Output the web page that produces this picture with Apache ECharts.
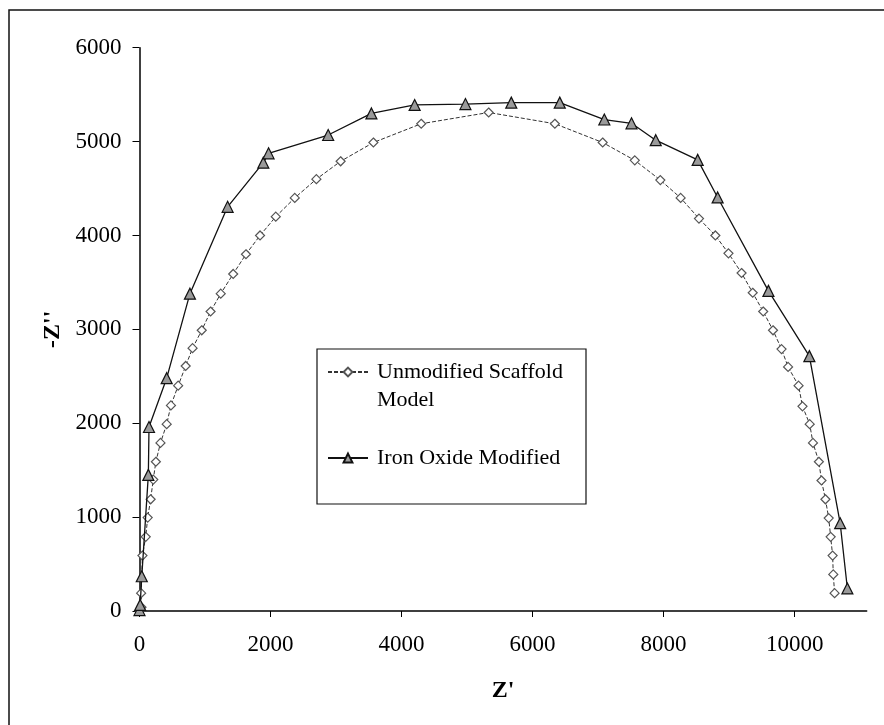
<!DOCTYPE html>
<html>
<head>
<meta charset="utf-8">
<script src="https://cdn.jsdelivr.net/npm/echarts@6/dist/echarts.min.js"></script>
<style>
  html, body { margin: 0; padding: 0; background: #fff; }
  #chart { width: 884px; height: 725px; }
</style>
</head>
<body>
<div id="chart"></div>
<script>
// Nyquist plot: -Z'' against Z'
const seriesNames = ['Unmodified Scaffold Model', 'Iron Oxide Modified'];

// Unmodified scaffold model
const unmodZre = [0, 30, 25, 45, 95, 125, 170, 210, 250, 320, 415, 480, 590, 705, 810, 950, 1085, 1240, 1430, 1625, 1840, 2080, 2370, 2700, 3070, 3570, 4300, 5330, 6340, 7070, 7560, 7950, 8260, 8540, 8790, 8990, 9190, 9360, 9520, 9670, 9800, 9900, 10060, 10120, 10230, 10280, 10370, 10410, 10470, 10520, 10550, 10580, 10590, 10610];
const unmodZim = [0, 40, 190, 590, 790, 995, 1190, 1400, 1590, 1790, 1990, 2190, 2400, 2610, 2800, 2990, 3190, 3380, 3590, 3800, 4000, 4200, 4400, 4600, 4790, 4990, 5190, 5310, 5190, 4990, 4800, 4590, 4400, 4180, 4000, 3810, 3600, 3390, 3190, 2990, 2790, 2600, 2400, 2180, 1990, 1790, 1590, 1390, 1190, 990, 790, 590, 390, 190];

// Iron oxide modified scaffold
const ironZre = [0, 10, 35, 135, 145, 415, 770, 1345, 1890, 1970, 2880, 3540, 4200, 4975, 5675, 6415, 7095, 7510, 7880, 8520, 8825, 9600, 10225, 10695, 10805];
const ironZim = [10, 65, 370, 1450, 1960, 2480, 3380, 4305, 4775, 4875, 5070, 5300, 5390, 5400, 5415, 5415, 5235, 5195, 5015, 4805, 4405, 3410, 2715, 935, 240];

// Axis ticks
const xTicks = [0, 2000, 4000, 6000, 8000, 10000];
const yTicks = [0, 1000, 2000, 3000, 4000, 5000, 6000];

const pairs = (xs, ys) => xs.map((x, i) => [x, ys[i]]);
const plain = (v) => String(v);

const serif = '"Liberation Serif", "Times New Roman", serif';
const chart = echarts.init(document.getElementById('chart'), null, { renderer: 'canvas' });

chart.setOption({
  backgroundColor: '#ffffff',
  animation: false,
  grid: { left: 139.5, right: 17.3, top: 47.7, bottom: 114 },
  xAxis: {
    type: 'value',
    min: 0,
    max: 11100,
    name: "Z'",
    nameLocation: 'middle',
    nameGap: 68,
    nameTextStyle: { fontFamily: serif, fontSize: 24, fontWeight: 'bold', color: '#000', padding: [0, 0, 0, 0] },
    axisLine: { show: true, onZero: false, lineStyle: { color: '#000', width: 1.5 } },
    axisTick: { show: true, inside: false, length: 6, customValues: xTicks, lineStyle: { color: '#000' } },
    axisLabel: { customValues: xTicks, formatter: plain, margin: 22, fontFamily: serif, fontSize: 23, color: '#000' },
    splitLine: { show: false }
  },
  yAxis: {
    type: 'value',
    min: 0,
    max: 6000,
    name: "-Z''",
    nameLocation: 'middle',
    nameGap: 40,
    nameRotate: 90,
    nameTextStyle: { fontFamily: serif, fontSize: 24, fontWeight: 'bold', color: '#000' },
    axisLine: { show: true, onZero: false, lineStyle: { color: '#000', width: 1.5 } },
    axisTick: { show: true, inside: false, length: 7, customValues: yTicks, lineStyle: { color: '#000' } },
    axisLabel: { customValues: yTicks, formatter: plain, margin: 18, fontFamily: serif, fontSize: 23, color: '#000' },
    splitLine: { show: false }
  },
  legend: [
    {
      data: [seriesNames[0]],
      left: 327,
      top: 330,
      padding: 0,
      itemWidth: 40,
      itemHeight: 11,
      selectedMode: false,
      formatter: () => '\nUnmodified Scaffold\nModel',
      textStyle: { fontFamily: serif, fontSize: 22, lineHeight: 28, color: '#000', padding: [0, 0, 0, 4] }
    },
    {
      data: [seriesNames[1]],
      left: 327,
      top: 444,
      padding: 0,
      itemWidth: 40,
      itemHeight: 11,
      selectedMode: false,
      textStyle: { fontFamily: serif, fontSize: 22, lineHeight: 28, color: '#000', padding: [0, 0, 0, 4] }
    }
  ],
  graphic: [
    {
      type: 'polyline',
      shape: { points: [[9, 725], [9, 10], [884, 10]] },
      style: { fill: 'none', stroke: '#111', lineWidth: 1.5 },
      silent: true
    },
    {
      type: 'rect',
      shape: { x: 317, y: 349, width: 269, height: 155 },
      style: { fill: 'none', stroke: '#111', lineWidth: 1.2 },
      silent: true,
      z: 10
    }
  ],
  series: [
    {
      name: seriesNames[0],
      type: 'line',
      data: pairs(unmodZre, unmodZim),
      symbol: 'diamond',
      symbolSize: 9,
      showAllSymbol: true,
      lineStyle: { color: '#333', width: 1, type: [4, 2] },
      itemStyle: { color: '#ffffff', borderColor: '#555', borderWidth: 1.2 },
      z: 2
    },
    {
      name: seriesNames[1],
      type: 'line',
      data: pairs(ironZre, ironZim),
      symbol: 'triangle',
      symbolSize: 11,
      showAllSymbol: true,
      lineStyle: { color: '#111', width: 1.3 },
      itemStyle: { color: '#9a9a9a', borderColor: '#111', borderWidth: 1.2 },
      z: 3
    }
  ]
});
</script>
</body>
</html>
